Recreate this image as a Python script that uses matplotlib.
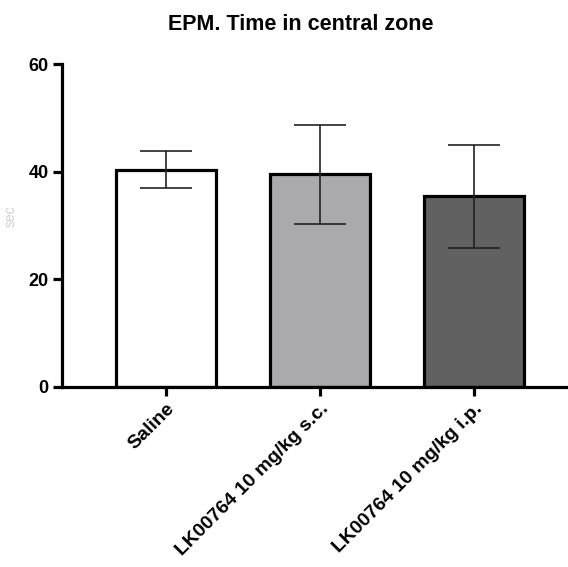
import numpy as np
import matplotlib
matplotlib.use("Agg")
import matplotlib.pyplot as plt

plt.rcParams['font.family'] = ['Liberation Sans', 'DejaVu Sans']

# group means and SEM (time in central zone, s)
groups = ["Saline", "LK00764 10 mg/kg s.c.", "LK00764 10 mg/kg i.p."]
means = [40.4, 39.5, 35.4]
sems = [3.4, 9.2, 9.6]
colors = ["#ffffff", "#a9a9ae", "#616161"]
yticks = [0, 20, 40, 60]

fig = plt.figure(figsize=(5.68, 5.67), dpi=100)
ax = fig.add_axes([0.109, 0.3175, 0.908, 0.5695])

x = np.arange(len(groups))
ax.bar(x, means, width=0.65, color=colors, edgecolor="black",
       linewidth=2.3, zorder=2)
ax.errorbar(x, means, yerr=sems, fmt="none", ecolor="#222222",
            elinewidth=1.2, capsize=18.5, capthick=1.2, zorder=3)

ax.set_xlim(-0.675, 2.675)
ax.set_ylim(0, 60)
ax.set_yticks(yticks)
ax.set_yticklabels([str(v) for v in yticks], fontsize=13, fontweight="bold")
ax.set_xticks(x)
ax.set_xticklabels(groups, rotation=45, ha="right", rotation_mode="anchor",
                   fontsize=14, fontweight="bold")

for s in ["top", "right"]:
    ax.spines[s].set_visible(False)
for s in ["left", "bottom"]:
    ax.spines[s].set_linewidth(2.3)
ax.tick_params(axis="both", width=2.3, length=6.5, pad=3)

ax.set_ylabel("sec", color="#cfcfcf", fontsize=10)
ax.yaxis.set_label_coords(-0.085, 0.53)

fig.suptitle("EPM. Time in central zone", x=0.53, y=0.976,
             fontsize=15.5, fontweight="bold")

fig.savefig("out.png", dpi=100)
